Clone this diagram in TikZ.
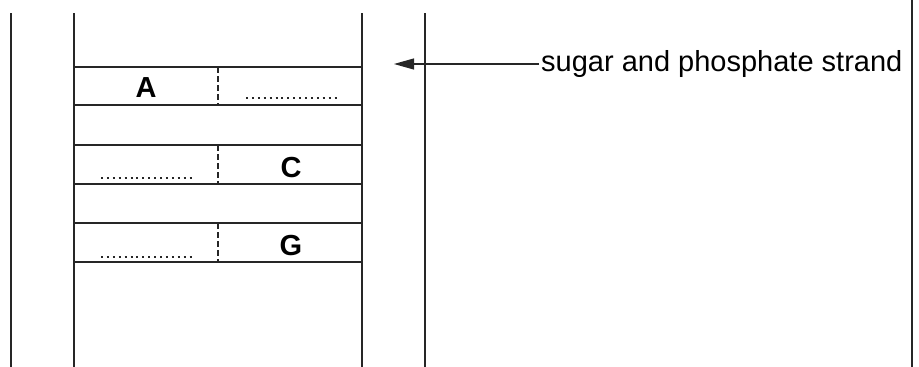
\documentclass[tikz,border=0pt]{standalone}
\usepackage{fontspec}
\setmainfont{Liberation Sans}
\usetikzlibrary{arrows.meta}
\begin{document}
\begin{tikzpicture}[x=1pt,y=-1pt,
  ln/.style={line width=1.2pt,draw=black!85},
  rungsep/.style={line width=1.1pt,draw=black!85,dash pattern=on 6pt off 3pt},
  blank/.style={line width=1.5pt,draw=black!85,dash pattern=on 2pt off 3.9pt},
  base/.style={font=\bfseries\fontsize{29}{31}\selectfont,anchor=base,inner sep=0pt},
  lab/.style={font=\fontsize{29}{32}\selectfont,anchor=west,inner sep=2pt}]
\useasboundingbox (0,0) rectangle (919,367);
% backbone / outer lines
\draw[ln] (11,13) -- (11,367);
\draw[ln] (74,13) -- (74,367);
\draw[ln] (362,13) -- (362,367);
\draw[ln] (425,13) -- (425,367);
\draw[ln] (912,0) -- (912,367);
% rungs
\foreach \y in {67,105,145,184,223,262} \draw[ln] (74,\y) -- (362,\y);
\draw[rungsep] (218,67) -- (218,105);
\draw[rungsep] (218,145) -- (218,184);
\draw[rungsep] (218,223) -- (218,262);
% bases
\node[base] (a) at (146,97) {A};
\node[base] (c) at (291,177) {C};
\node[base] (g) at (291,255) {G};
% blanks
\draw[blank] (246,98) -- (337,98);
\draw[blank] (101,178) -- (192,178);
\draw[blank] (101,257) -- (192,257);
% label and arrow
\node[lab] (lbl) at (539,64) {sugar and phosphate strand};
\coordinate (tip) at (394,64);
\draw[ln,-{Triangle[length=20pt,width=11pt]}] (lbl.west) -- (tip);
\end{tikzpicture}
\end{document}
